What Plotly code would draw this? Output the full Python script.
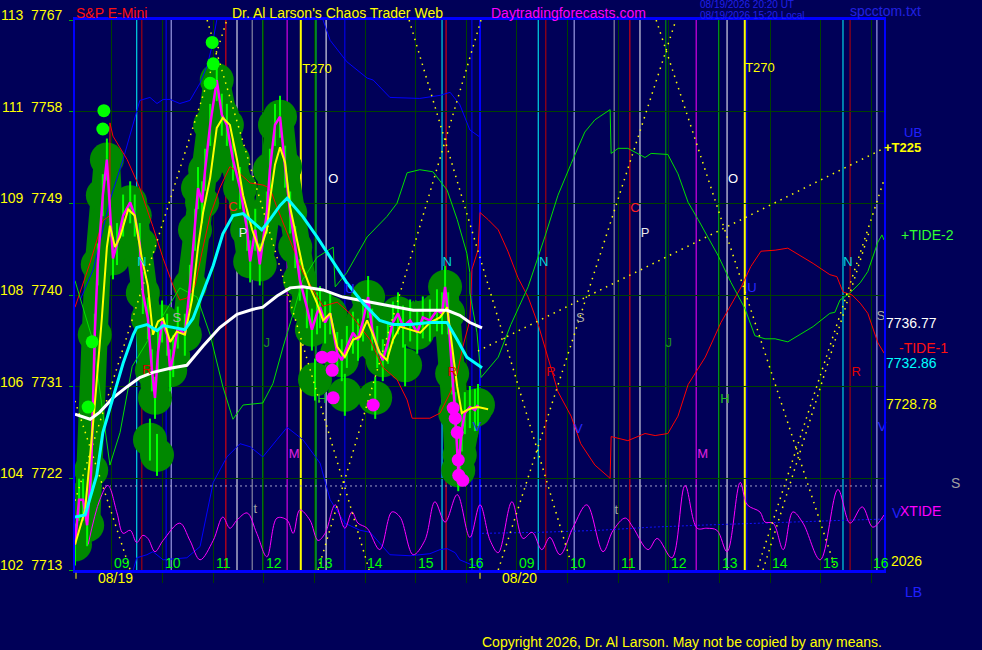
import plotly.graph_objects as go

# x = session hours: 0 = 08:15 on 08/19, 8 = 08:15 on 08/20 (two 8 hour sessions)
# y = S&P E-Mini price

# --- price (1 min close) and its averages ---
price_t = [0.02, 0.10, 0.18, 0.26, 0.34, 0.41, 0.47, 0.57, 0.65, 0.71,
           0.77, 0.85, 0.97, 1.11, 1.20, 1.30, 1.36, 1.46, 1.54, 1.60,
           1.66, 1.74, 1.84, 1.90, 1.96, 2.05, 2.19, 2.29, 2.39, 2.45,
           2.53, 2.59, 2.69, 2.82, 2.92, 3.02, 3.14, 3.28, 3.42, 3.48,
           3.58, 3.67, 3.81, 3.87, 3.97, 4.07, 4.17, 4.27, 4.37, 4.46,
           4.60, 4.70, 4.80, 4.86, 4.96, 5.06, 5.20, 5.29, 5.39, 5.51,
           5.61, 5.71, 5.81, 5.89, 5.99, 6.10, 6.20, 6.30, 6.40, 6.50,
           6.64, 6.78, 6.89, 7.03, 7.17, 7.27, 7.33, 7.39, 7.47, 7.53,
           7.59, 7.66, 7.72, 7.82, 7.92, 7.98]
price = [7715.5, 7719.9, 7719.9, 7717.4, 7722.8, 7736.1, 7743.0, 7749.8, 7753.3, 7747.8,
         7743.6, 7745.0, 7747.8, 7749.1, 7747.8, 7745.0, 7740.2, 7737.7, 7732.6, 7729.9,
         7734.4, 7737.4, 7736.1, 7732.6, 7734.0, 7736.8, 7736.1, 7740.9, 7746.4, 7750.5,
         7749.1, 7752.3, 7756.7, 7761.1, 7757.7, 7756.7, 7753.3, 7750.5, 7746.4, 7743.3,
         7746.4, 7743.0, 7748.1, 7752.3, 7756.7, 7757.5, 7752.6, 7748.1, 7744.7, 7741.5,
         7738.8, 7736.6, 7738.2, 7738.8, 7737.3, 7738.2, 7734.3, 7733.6, 7734.9, 7736.3,
         7735.6, 7737.5, 7739.8, 7736.6, 7734.9, 7733.6, 7735.3, 7737.3, 7738.2, 7736.9,
         7737.5, 7736.3, 7737.8, 7737.5, 7738.5, 7738.2, 7740.8, 7738.2, 7732.3, 7728.4,
         7722.8, 7726.7, 7728.4, 7729.0, 7728.7, 7729.2]

bar_low_t = [1.50, 1.64, 4.76, 5.35, 5.95, 6.54, 7.62]
bar_low = [7725.8, 7724.3, 7731.7, 7730.2, 7729.9, 7733.1, 7724.3]

fast_t = [0.02, 0.22, 0.41, 0.55, 0.65, 0.71, 0.81, 0.91, 1.07, 1.20,
          1.34, 1.46, 1.56, 1.66, 1.76, 1.90, 2.03, 2.19, 2.33, 2.45,
          2.55, 2.69, 2.82, 2.94, 3.08, 3.22, 3.34, 3.52, 3.67, 3.81,
          3.87, 3.97, 4.07, 4.17, 4.27, 4.40, 4.52, 4.66, 4.80, 4.92,
          5.06, 5.20, 5.35, 5.51, 5.65, 5.79, 5.89, 6.04, 6.18, 6.30,
          6.44, 6.64, 6.84, 7.03, 7.23, 7.37, 7.47, 7.57, 7.66, 7.76,
          7.86, 7.98, 8.18]
fast_ma = [7715.5, 7718.9, 7729.2, 7737.7, 7744.7, 7746.8, 7744.7, 7745.7, 7748.4, 7747.8,
           7743.6, 7740.9, 7736.1, 7737.4, 7737.7, 7735.4, 7736.4, 7736.1, 7739.5, 7744.7,
           7748.1, 7751.5, 7756.4, 7757.4, 7756.7, 7753.3, 7749.8, 7746.4, 7744.3, 7746.4,
           7749.3, 7752.8, 7754.5, 7753.0, 7748.6, 7745.7, 7742.7, 7740.8, 7739.2, 7737.5,
           7738.2, 7734.9, 7733.9, 7735.6, 7735.9, 7737.5, 7736.3, 7734.3, 7733.6, 7735.6,
           7736.9, 7736.6, 7736.3, 7737.3, 7737.8, 7738.8, 7734.9, 7731.0, 7728.4, 7728.7,
           7728.9, 7729.0, 7728.78]

mid_t = [0.02, 0.22, 0.45, 0.57, 0.77, 0.97, 1.17, 1.24, 1.44, 1.64,
         1.76, 1.96, 2.19, 2.35, 2.55, 2.75, 2.94, 3.14, 3.34, 3.54,
         3.71, 3.87, 4.07, 4.21, 4.52, 4.80, 5.06, 5.39, 5.71, 6.04,
         6.30, 6.64, 7.03, 7.37, 7.57, 7.76, 8.06]
mid_ma = [7718.2, 7718.4, 7722.3, 7726.5, 7729.9, 7733.3, 7736.1, 7736.8, 7737.1, 7736.5,
          7737.0, 7736.8, 7736.6, 7737.7, 7740.2, 7742.9, 7746.0, 7747.8, 7748.0, 7747.1,
          7746.4, 7747.4, 7748.8, 7749.5, 7747.7, 7745.7, 7743.7, 7741.2, 7739.2, 7737.5,
          7737.1, 7737.1, 7737.3, 7737.3, 7735.6, 7733.9, 7732.86]

slow_t = [0.02, 0.32, 0.51, 0.77, 1.05, 1.30, 1.56, 1.90, 2.23, 2.55,
          2.88, 3.22, 3.54, 3.73, 4.01, 4.27, 4.52, 4.92, 5.31, 5.85,
          6.24, 6.70, 7.17, 7.37, 7.62, 7.82, 8.06]
slow_ma = [7728.3, 7727.8, 7728.5, 7729.9, 7731.0, 7731.9, 7732.4, 7732.8, 7733.1, 7735.0,
           7736.8, 7738.1, 7738.6, 7738.8, 7739.9, 7740.7, 7740.8, 7740.5, 7739.8, 7739.3,
           7739.0, 7738.5, 7738.5, 7738.5, 7738.0, 7737.3, 7736.77]

high_dot_t = [0.59, 0.57, 2.73, 2.75, 2.69, 0.28, 0.36]
high_dot = [7758.1, 7756.3, 7764.8, 7762.7, 7760.8, 7729.0, 7735.4]
low_dot_t = [4.90, 5.10, 5.10, 5.12, 5.91, 7.49, 7.53, 7.57, 7.59, 7.60, 7.68]
low_dot = [7733.9, 7733.9, 7732.6, 7729.9, 7729.2, 7728.9, 7727.9, 7726.5, 7723.8, 7722.3, 7721.8]

# --- bands ---
ub_t = [0.12, 0.38, 0.71, 0.97, 1.30, 1.50, 1.64, 1.76, 1.90, 2.09, 2.29, 2.49, 2.63, 2.73, 2.82,
        None, 4.92, 5.06, 5.39, 5.79, 5.91, 6.24, 6.83, 7.23, 7.43, 7.62, 7.82, 8.02]
ub = [7739.5, 7742.5, 7749.3, 7753.3, 7759.1, 7759.4, 7758.8, 7759.2, 7759.2, 7758.8, 7759.1, 7760.8, 7762.5, 7764.5, 7767.0,
      None, 7767.0, 7765.0, 7762.9, 7761.3, 7761.1, 7759.4, 7759.3, 7759.6, 7759.9, 7758.7, 7756.2, 7755.5]
lb_t = [1.17, 1.24, 1.44, 1.56, 1.76, 2.23, 2.49, 2.75, 3.02, 3.28, 3.48, 3.73, 4.01, 4.21, 4.52,
        4.86, 5.06, 5.35, 5.65, 5.85, 6.24, 6.64, 7.03, 7.23, 7.37, 7.53, 7.62, 7.86, 8.02]
lb = [7713.0, 7714.2, 7714.5, 7714.8, 7714.0, 7714.2, 7715.3, 7721.6, 7724.1, 7725.4, 7725.1, 7724.1, 7725.8, 7727.0, 7725.8,
      7723.5, 7719.9, 7717.6, 7716.9, 7716.7, 7714.5, 7714.4, 7714.6, 7715.0, 7715.1, 7714.7, 7714.0, 7713.5, 7713.4]
lb2_t = [8.06, 9.20, 10.39, 11.38, 12.37, 13.55, 14.34, 15.33, 16.0]
lb2 = [7716.6, 7716.7, 7716.9, 7717.2, 7717.4, 7717.6, 7717.8, 7717.9, 7718.0]

# --- tides ---
tide1_t = [0.02, 0.32, 0.57, 0.71, 0.71, 0.77, 1.05, 1.30, 1.56, 1.76, 1.96, 2.09, 2.23, 2.39, 2.55,
           2.69, 2.88, 3.08, 3.28, 3.48, 3.73, 3.87, 4.01, 4.21, 4.52, 4.92, 5.20, 5.45, 5.85, 6.10,
           6.38, 6.58, 6.68, 7.03, 7.23, 7.43, 7.57, 7.68, 7.82, 7.86, 7.98, 8.02,
           8.18, 8.38, 8.57, 8.77, 8.97, 9.17, 9.36, 9.56, 9.82, 10.01, 10.29, 10.59, 10.61, 10.94, 11.28,
           11.48, 11.73, 11.93, 12.13, 12.47, 12.78, 13.18, 13.37, 13.57, 13.85, 14.10, 14.60, 14.93, 15.07,
           15.19, 15.37, 15.53, 15.68, 15.82, 15.88, 16.0]
tide1 = [7738.8, 7743.2, 7747.3, 7747.8, 7756.9, 7755.6, 7753.3, 7750.5, 7746.7, 7743.6, 7740.9, 7739.5, 7739.7, 7740.9, 7744.7,
         7747.8, 7750.5, 7752.6, 7751.9, 7751.0, 7750.8, 7750.5, 7748.6, 7746.1, 7742.2, 7738.9, 7739.3, 7738.2, 7735.6, 7732.9,
         7731.7, 7729.7, 7727.9, 7727.9, 7728.4, 7730.4, 7732.3, 7734.9, 7737.5, 7742.5, 7744.4, 7748.1,
         7747.4, 7746.4, 7744.3, 7741.7, 7739.8, 7737.1, 7733.9, 7730.5, 7728.1, 7725.4, 7723.3, 7722.0, 7726.1, 7725.7, 7726.4,
         7726.2, 7726.4, 7728.1, 7731.2, 7733.9, 7737.3, 7740.8, 7742.8, 7744.3, 7744.4, 7744.6, 7743.1, 7742.0, 7741.8,
         7740.3, 7740.0, 7739.2, 7738.2, 7736.3, 7735.3, 7734.3]

tide2_t = [0.02, 0.38, 0.71, 0.91, 1.15, 2.09, 2.43, 2.69, 2.94, 3.14,
           3.34, 3.73, 3.93, 4.13, 4.33, 4.52, 4.80, 5.12, 5.16, 5.39,
           5.79, 6.18, 6.38, 6.58, 6.83, 7.09, 7.37, 7.57, 7.76, 7.82,
           7.82, 7.96, 8.04,
           8.38, 8.63, 8.97, 9.30, 9.56, 9.82, 10.09, 10.29, 10.59, 10.61,
           10.75, 10.94, 11.28, 11.40, 11.73, 11.93, 12.13, 12.33, 12.72, 12.98,
           13.25, 13.45, 13.65, 13.85, 14.10, 14.60, 14.93, 15.03, 15.13, 15.33,
           15.53, 15.68, 15.82, 15.88, 15.96, 16.0]
tide2 = [7741.4, 7735.4, 7723.3, 7726.5, 7733.0, 7740.7, 7739.8, 7736.1, 7731.0, 7727.8,
         7729.2, 7729.4, 7731.3, 7734.9, 7738.2, 7741.5, 7743.7, 7744.7, 7740.8, 7742.2,
         7745.7, 7747.7, 7749.0, 7752.0, 7752.3, 7752.1, 7750.3, 7747.4, 7744.1, 7742.2,
         7740.2, 7736.3, 7731.9,
         7733.9, 7737.1, 7740.8, 7745.7, 7749.8, 7752.9, 7756.0, 7757.2, 7758.2, 7753.9,
         7754.4, 7754.4, 7753.5, 7753.9, 7753.8, 7751.9, 7749.1, 7747.4, 7743.9, 7741.2,
         7738.7, 7736.0, 7735.7, 7735.7, 7735.4, 7736.9, 7738.2, 7738.3, 7739.5, 7740.2,
         7741.2, 7742.3, 7744.2, 7745.2, 7745.9, 7745.4]

xtide_t = [0.28, 0.51, 0.67, 0.85, 0.97, 1.11, 1.24, 1.36, 1.46, 1.60,
           1.76, 2.09, 2.29, 2.49, 2.75, 2.94, 3.08, 3.22, 3.42, 3.61,
           3.81, 4.01, 4.21, 4.33, 4.46, 4.66, 4.82, 4.96, 5.16, 5.35,
           5.49, 5.61, 5.79, 6.04, 6.28, 6.44, 6.70, 6.93, 7.13, 7.33,
           7.57, 7.82, 8.02,
           8.22, 8.38, 8.65, 8.87, 9.05, 9.24, 9.40, 9.60, 9.86, 10.13,
           10.45, 10.65, 10.89, 11.04, 11.34, 11.52, 11.81, 12.07, 12.31, 12.50,
           12.70, 12.90, 13.16, 13.30, 13.55, 13.65, 13.81, 14.01, 14.20, 14.40,
           14.74, 15.09, 15.33, 15.57, 15.78, 16.0]
xtide = [7715.5, 7719.9, 7721.3, 7718.6, 7716.6, 7716.9, 7715.7, 7716.4, 7716.1, 7714.8,
         7715.9, 7717.6, 7715.9, 7714.0, 7715.9, 7718.2, 7717.1, 7717.9, 7718.6, 7716.6,
         7714.3, 7718.1, 7717.9, 7716.6, 7718.9, 7717.9, 7715.9, 7716.6, 7719.4, 7717.1,
         7718.7, 7717.6, 7717.1, 7715.0, 7718.7, 7718.2, 7714.5, 7715.9, 7719.7, 7717.7,
         7720.4, 7716.2, 7719.4,
         7715.9, 7714.7, 7719.7, 7716.1, 7716.7, 7715.0, 7716.2, 7714.5, 7717.2, 7719.4,
         7714.8, 7716.9, 7718.1, 7717.2, 7715.0, 7716.1, 7714.2, 7721.3, 7717.1, 7717.1,
         7716.9, 7714.8, 7721.6, 7719.4, 7718.7, 7717.7, 7717.6, 7715.0, 7718.7, 7717.6,
         7714.0, 7720.9, 7717.6, 7719.2, 7717.2, 7718.4]

# --- dotted time/price rays (start, end) ---
ray_t0 = [0.02, 0.02, 2.63, 4.82, 6.62, 8.38, 11.50, 13.51, 13.61, 7.98]
ray_p0 = [7719.8, 7729.6, 7767.0, 7713.0, 7767.0, 7713.0, 7767.0, 7713.3, 7713.0, 7734.5]
ray_t1 = [3.02, 1.11, 5.83, 8.04, 9.80, 11.89, 15.05, 16.0, 15.72, 16.0]
ray_p1 = [7767.0, 7713.0, 7713.0, 7767.0, 7714.0, 7767.0, 7713.0, 7751.3, 7746.4, 7754.4]
s_level = 7721.25

# --- vertical event lines ---
event_t = [1.24, 1.34, 1.82, 1.92, 3.00, 3.22, 3.52, 3.73, 4.21, 4.48, 4.78, 4.98, 5.35, 7.27, 7.35, 7.86,
           9.17, 9.32, 9.88, 10.67, 10.98, 11.18, 11.69, 12.29, 12.74, 12.90, 13.25, 13.29, 15.19, 15.33, 15.86]
event_kind = ["cyan", "darkred", "blue", "lav", "red", "white", "gray", "green", "mag", "yellow", "lime", "white",
              "blue", "cyan", "red", "blue",
              "cyan", "darkred", "lav", "gray", "red", "white", "green", "mag", "lime", "white", "yellow", "blue",
              "cyan", "darkred", "lav"]
day_break = 8.02

# --- event letters ---
ev_label = ["T270", "O", "P", "C", "N", "S", "R", "J", "H", "M", "t", "U", "N", "R", "V",
            "N", "R", "S", "V", "C", "P", "J", "O", "U", "H", "M", "t", "T270", "N", "R", "S", "V"]
ev_t = [4.80, 5.12, 3.34, 3.14, 1.34, 2.03, 1.44, 3.81, 4.90, 4.35, 3.58, 5.45, 7.37, 7.47, 7.96,
        9.28, 9.42, 10.0, 9.96, 11.08, 11.28, 11.75, 13.02, 13.39, 12.86, 12.42, 10.71, 13.55, 15.29, 15.45, 15.94, 15.96]
ev_p = [7762.1, 7751.3, 7746.0, 7748.6, 7743.2, 7737.7, 7732.6, 7735.2, 7729.7, 7724.3, 7718.9, 7740.5, 7743.2, 7732.4, 7727.0,
        7743.2, 7732.4, 7737.7, 7726.8, 7748.5, 7746.0, 7735.2, 7751.3, 7740.6, 7729.7, 7724.3, 7718.8, 7762.2, 7743.2, 7732.4,
        7737.9, 7727.0]

hour_ticks = [0.75, 1.75, 2.75, 3.75, 4.75, 5.75, 6.75, 7.75,
              8.75, 9.75, 10.75, 11.75, 12.75, 13.75, 14.75, 15.75]
hour_labels = ["09", "10", "11", "12", "13", "14", "15", "16"] * 2
price_ticks = [7713, 7722, 7731, 7740, 7749, 7758, 7767]
index_ticks = ["102", "104", "106", "108", "109", "111", "113"]

BG = "#000058"
FONT = "Liberation Sans, Arial, sans-serif"
COLORS = {"cyan": "#00ffff", "darkred": "#c00000", "blue": "#0000ff", "lav": "#b8b8ff",
          "red": "#ff0000", "white": "#ffffff", "gray": "#a0a0b0", "green": "#00a000",
          "mag": "#ff00ff", "yellow": "#ffff00", "lime": "#00ff00"}
LETTER_COLORS = {"T270": "#ffff00", "O": "#ffffff", "P": "#e8e8e8", "C": "#ff2020", "N": "#00d8d8",
                 "S": "#a8a8a8", "R": "#e00000", "J": "#208c20", "H": "#20c020", "M": "#e020e0",
                 "t": "#a0a0a0", "U": "#2828ff", "V": "#2828ff"}

fig = go.Figure()

for t, kind in zip(event_t, event_kind):
    fig.add_shape(type="line", x0=t, x1=t, y0=0, y1=1, yref="paper",
                  line=dict(color=COLORS[kind], width=2 if kind == "yellow" else 1), layer="between")
fig.add_shape(type="line", x0=day_break, x1=day_break, y0=0, y1=1, yref="paper",
              line=dict(color="#0000ff", width=2), layer="between")
fig.add_shape(type="line", x0=0, x1=1, xref="paper", y0=s_level, y1=s_level,
              line=dict(color="#a0a0c8", width=1, dash="2px,3px"), layer="between")
for t in [0.04, day_break]:
    fig.add_shape(type="line", x0=t, x1=t, y0=-0.005, y1=-0.016, yref="paper",
                  line=dict(color="#ffff00", width=1))

# green blobs around the bars: a thick tube plus round ends
fig.add_trace(go.Scatter(x=price_t, y=price, mode="lines",
                         line=dict(color="#008800", width=26)))
fig.add_trace(go.Scatter(x=price_t + bar_low_t, y=price + bar_low, mode="markers",
                         marker=dict(size=34, color="#008800", opacity=1, line=dict(width=0))))
fig.add_trace(go.Scatter(x=price_t + bar_low_t, y=price + bar_low, mode="markers",
                         marker=dict(symbol="line-ns", size=30, opacity=1,
                                     line=dict(color="#00ff00", width=2))))

# bands and tides
fig.add_trace(go.Scatter(x=ub_t, y=ub, mode="lines", line=dict(color="#0000ff", width=1)))
fig.add_trace(go.Scatter(x=lb_t, y=lb, mode="lines", line=dict(color="#0000ff", width=1)))
fig.add_trace(go.Scatter(x=lb2_t, y=lb2, mode="lines", line=dict(color="#1010ff", width=1, dash="2px,2px")))
fig.add_trace(go.Scatter(x=tide1_t, y=tide1, mode="lines", line=dict(color="#ff0000", width=1)))
fig.add_trace(go.Scatter(x=tide2_t, y=tide2, mode="lines", line=dict(color="#00e000", width=1)))
fig.add_trace(go.Scatter(x=xtide_t, y=xtide, mode="lines", line=dict(color="#ff00ff", width=1, shape="spline")))

for t0, p0, t1, p1 in zip(ray_t0, ray_p0, ray_t1, ray_p1):
    fig.add_trace(go.Scatter(x=[t0, t1], y=[p0, p1], mode="lines",
                             line=dict(color="#ffff00", width=1.5, dash="1.5px,5px")))

# price and averages
fig.add_trace(go.Scatter(x=price_t, y=price, mode="lines", line=dict(color="#ff00ff", width=2.5)))
fig.add_trace(go.Scatter(x=fast_t, y=fast_ma, mode="lines", line=dict(color="#ffff00", width=2)))
fig.add_trace(go.Scatter(x=slow_t, y=slow_ma, mode="lines", line=dict(color="#ffffff", width=3)))
fig.add_trace(go.Scatter(x=mid_t, y=mid_ma, mode="lines", line=dict(color="#00ffff", width=3)))

fig.add_trace(go.Scatter(x=high_dot_t, y=high_dot, mode="markers",
                         marker=dict(size=13, color="#00ff00", opacity=1, line=dict(width=0))))
fig.add_trace(go.Scatter(x=low_dot_t, y=low_dot, mode="markers",
                         marker=dict(size=13, color="#ff00ff", opacity=1, line=dict(width=0))))

fig.add_trace(go.Scatter(x=ev_t, y=ev_p, mode="text", text=ev_label, cliponaxis=False,
                         textfont=dict(family=FONT, size=13, color=[LETTER_COLORS[s] for s in ev_label])))


def px(x):
    return (x - 75) / 809


def py(y):
    return (570 - y) / 550


def label(text, x, y, color, size=14, anchor="center"):
    return dict(text=text, x=px(x), y=py(y), xref="paper", yref="paper", xanchor=anchor,
                yanchor="middle", showarrow=False, borderpad=0,
                font=dict(family=FONT, size=size, color=color))


notes = []
for v, idx in zip(price_ticks, index_ticks):
    notes.append(dict(text=idx + "\u00a0\u00a0" + str(v), x=0, xref="paper", xanchor="right", xshift=-11,
                      y=v, yref="y", yshift=5, showarrow=False,
                      font=dict(family=FONT, size=14, color="#ffff00")))
for t, h in zip(hour_ticks, hour_labels):
    notes.append(dict(text=h, x=t + 0.2, xref="x", y=0, yref="paper", yanchor="middle", yshift=7,
                      showarrow=False, font=dict(family=FONT, size=14, color="#00ff00")))
for v, c in [(slow_ma[-1], "#ffffff"), (mid_ma[-1], "#00ffff"), (fast_ma[-1], "#ffff00")]:
    notes.append(dict(text=f"{v:.2f}", x=1, xref="paper", xanchor="left", xshift=0, y=v, yref="y",
                      yshift=5, showarrow=False, font=dict(family=FONT, size=14, color=c)))

notes += [
    label("S&P E-Mini", 75, 13, "#ff1010", anchor="left"),
    label("Dr. Al Larson's Chaos Trader Web", 337, 13, "#ffff00"),
    label("Daytradingforecasts.com", 568, 13, "#ff00ff"),
    label("08/19/2026 20:20 UT", 699, 5, "#2020e8", size=10, anchor="left"),
    label("08/19/2026 15:20 Local", 699, 15, "#2020e8", size=10, anchor="left"),
    label("spcctom.txt", 885, 11, "#2020e0"),
    label("UB", 913, 132, "#2020ff", size=13),
    label("<b>+T225</b>", 902, 147, "#ffff00", size=13),
    label("+TIDE-2", 927, 235, "#30ff30"),
    label("-TIDE-1", 923, 348, "#ff1010"),
    label("S", 955, 483, "#a0a0a0"),
    label("V", 897, 513, "#2020ff"),
    label("XTIDE", 920, 511, "#ff00ff"),
    label("2026", 906, 561, "#ffff00"),
    label("LB", 913, 592, "#2020ff"),
    label("08/19", 115, 578, "#ffff00"),
    label("08/20", 519, 578, "#ffff00"),
    label("Copyright 2026, Dr. Al Larson. May not be copied by any means.", 682, 642, "#ffff00"),
]

fig.update_layout(
    width=982, height=650,
    margin=dict(l=75, r=98, t=20, b=80, pad=0),
    paper_bgcolor=BG, plot_bgcolor=BG,
    showlegend=False,
    hovermode=False,
    annotations=notes,
    xaxis=dict(range=[0.02, 16.0], tickvals=hour_ticks, showticklabels=False,
               ticks="outside", ticklen=10, tickcolor="#003800",
               showgrid=True, gridcolor="#004000", gridwidth=1, zeroline=False,
               showline=True, linecolor="#0000ff", linewidth=3, mirror=True),
    yaxis=dict(range=[7713, 7767], tickvals=price_ticks, showticklabels=False,
               ticks="outside", ticklen=4, tickcolor="#00b000",
               showgrid=True, gridcolor="#004000", gridwidth=1, zeroline=False,
               showline=True, linecolor="#0000ff", linewidth=2, mirror=True),
)

fig.write_html("out.html", config={"displayModeBar": False},
               post_script="document.body.style.margin='0';document.body.style.background='#000058';")
